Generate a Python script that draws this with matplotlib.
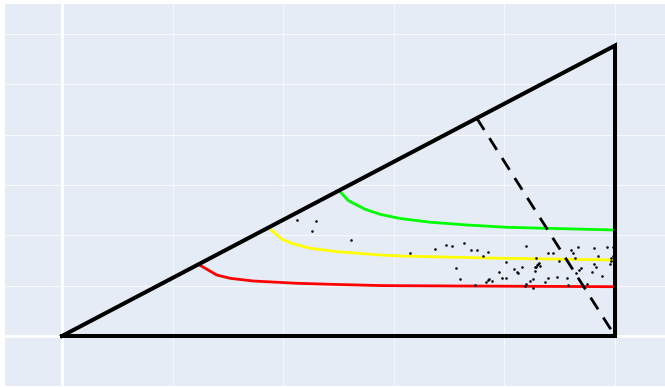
import numpy as np
import matplotlib
matplotlib.use('Agg')
import matplotlib.pyplot as plt

# Triangulo 30-60-90
tri_x = [0, 1, 1, 0]
tri_y = [0, 0, np.tan(np.pi / 6), 0]

# Altura desde (1, 0) hasta la hipotenusa
alt_x = [0.75, 1.0]
alt_y = [0.433, 0.0]

# Curvas
red_x = [0.2465, 0.2797, 0.3038, 0.3459, 0.4244, 0.4846, 0.575, 0.6112, 0.80, 1.0]
red_y = [0.1425, 0.1213, 0.1147, 0.1093, 0.1048, 0.1028, 0.1003, 0.1000, 0.0990, 0.0980]

yellow_x = [0.3731, 0.3973, 0.4183, 0.4485, 0.4967, 0.575, 0.6112, 0.792, 1.0]
yellow_y = [0.2153, 0.1922, 0.1829, 0.1744, 0.1676, 0.1610, 0.1590, 0.1545, 0.1511]

green_x = [0.5009, 0.5177, 0.5479, 0.575, 0.6112, 0.6655, 0.7318, 0.8042, 1.0]
green_y = [0.2889, 0.2690, 0.2519, 0.2419, 0.2336, 0.2262, 0.2207, 0.2161, 0.2107]

# Puntos (pixeles)
pts_px = [
    (296.7, 219.7), (316, 221.3), (312.3, 230.7), (351, 240.3),
    (410, 253.3), (434.7, 248.7), (445.7, 245.3), (451.7, 245.7),
    (464.3, 242.7), (471.3, 250.3), (477, 249.7), (483, 255.7),
    (488, 252), (456.3, 268), (460.3, 279), (474.7, 285),
    (486, 281.7), (487.7, 280.3), (489, 279.3), (492, 280.7),
    (499.3, 271.7), (502, 277.7), (505.7, 278), (506.3, 262.3),
    (525.7, 245.7), (548, 252.7), (552.7, 253.3), (571.3, 250),
    (572.7, 253.3), (577.7, 247.3), (594.3, 248.3), (607, 247.3),
    (612.7, 247.3), (574.7, 257.7), (536, 258.3), (559, 261),
    (514, 269), (517, 271.7), (517.7, 272.7), (522.3, 266.7),
    (536, 266.7), (538.3, 264.3), (540, 265.7), (537, 265),
    (539, 263.5), (535, 267.5), (535, 271), (530, 281),
    (533.3, 279.3), (526, 284), (532.7, 288.3), (545.3, 281.7),
    (548, 277.7), (557, 277), (567, 277.7), (567.7, 285.3),
    (581.3, 267.7), (579, 269.7), (576, 273.3), (592.3, 271.7),
    (594.3, 264.3), (595.7, 267.3), (601.7, 276.3), (610, 264),
    (612.7, 256.3), (597.7, 255.7), (610.7, 258.3), (611, 261),
    (525.2, 285.9), (586.7, 284.3),
]

px_x = np.array([p[0] for p in pts_px])
px_y = np.array([p[1] for p in pts_px])
pts_x = (px_x - 62) / 553
pts_y = (336 - px_y) / 503

fig = plt.figure(figsize=(6.65, 3.87), dpi=100)
ax = fig.add_axes([5 / 665, 1 / 387, 660 / 665, 382 / 387])
ax.set_facecolor('#E5ECF6')
for s in ax.spines.values():
    s.set_visible(False)

ax.set_xlim(-0.1031, 1.0904)
ax.set_ylim(-0.0994, 0.660)

# Rejilla
for gx in [0.2, 0.4, 0.6, 0.8, 1.0]:
    ax.axvline(gx, color='white', lw=0.8, alpha=0.6, zorder=0)
for gy in [0.1, 0.2, 0.3, 0.4, 0.5, 0.6]:
    ax.axhline(gy, color='white', lw=0.8, alpha=0.7, zorder=0)
ax.axvline(0, color='white', lw=2.0, zorder=0)
ax.axhline(0, color='white', lw=2.0, zorder=0)
ax.set_xticks([])
ax.set_yticks([])

ax.plot(tri_x, tri_y, color='black', lw=2.9, solid_joinstyle='miter', zorder=3)
ax.plot(alt_x, alt_y, color='black', lw=2.0, dashes=(5, 3.5), zorder=3)

ax.plot(red_x, red_y, color='#FF0000', lw=2.0, zorder=2)
ax.plot(yellow_x, yellow_y, color='#FFFF00', lw=2.0, zorder=2)
ax.plot(green_x, green_y, color='#00FF00', lw=2.0, zorder=2)

ax.scatter(pts_x, pts_y, s=3.5, color='black', linewidths=0, zorder=4)

fig.savefig('out.png', dpi=100)
